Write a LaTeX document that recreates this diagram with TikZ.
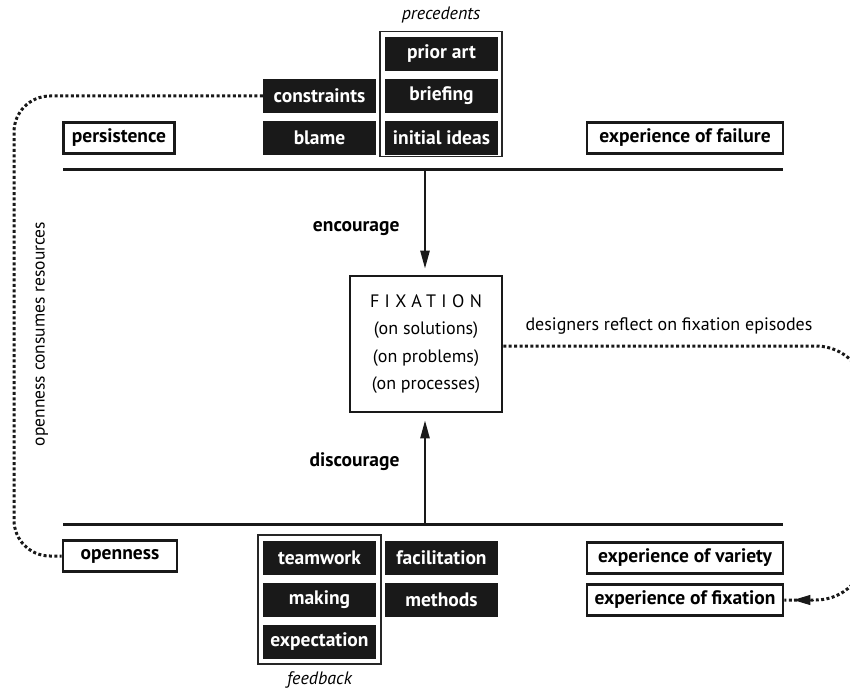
\documentclass[tikz,border=0pt]{standalone}
\usepackage{fontspec}
\setmainfont{PT Sans}
\usetikzlibrary{arrows.meta}
\begin{document}
\begin{tikzpicture}[x=1pt,y=-1pt,
  every node/.style={font=\fontsize{18}{21}\selectfont},
  blackbox/.style={fill=black!90, text=white, font=\fontsize{19.5}{22}\selectfont\bfseries, minimum width=113pt, minimum height=34pt, inner sep=0pt},
  whitebox/.style={draw=black!90, line width=2.6pt, font=\fontsize{19.5}{22}\selectfont\bfseries, minimum height=31pt, inner sep=0pt},
  groupbox/.style={draw=black!85, line width=1.3pt, inner sep=0pt},
  bar/.style={line width=3pt, black!90},
  flowarrow/.style={line width=2.4pt, black!90, -{Triangle[width=9pt,length=18pt]}},
  dotline/.style={line width=3pt, black!90, dash pattern=on 3pt off 2.4pt},
  lbl/.style={font=\fontsize{19.5}{22}\selectfont\bfseries},
  ital/.style={font=\fontsize{18}{21}\selectfont\itshape, inner sep=1pt}
]
\useasboundingbox (0,0) rectangle (850,690);

% top group
\node[ital] (prectxt) at (441,15) {precedents};
\node[groupbox, minimum width=122pt, minimum height=125pt] (prec) at (441,94) {};
\node[blackbox] (prior) at (441.5,54) {prior art};
\node[blackbox] (brief) at (441.5,96) {briefing};
\node[blackbox] (ideas) at (441.5,138) {initial ideas};
\node[blackbox] (constr) at (319.5,96) {constraints};
\node[blackbox] (blame) at (319.5,138) {blame};
\node[whitebox, minimum width=111pt] (persist) at (119,138) {persistence};
\node[whitebox, minimum width=196pt] (failure) at (685,138) {experience of failure};

\coordinate (tl) at (63,169);
\coordinate (tr) at (783,169);
\coordinate (tm) at (425,169);
\draw[bar] (tl) -- (tr);

% fixation
\node[draw=black!90, line width=2.6pt, minimum width=152pt, minimum height=136pt, align=center, inner sep=0pt,
  font=\fontsize{18}{27.5}\selectfont] (fix) at (426,344)
  {{\addfontfeature{LetterSpace=30}FIXATION}\\(on solutions)\\(on problems)\\(on processes)};

\node[lbl, anchor=east] (enc) at (403,229) {encourage};
\node[lbl, anchor=east] (disc) at (403,462) {discourage};
\draw[flowarrow, shorten >=6pt] (tm) -- (tm |- fix.north);

\coordinate (bl) at (63,524);
\coordinate (br) at (783,524);
\coordinate (bm) at (425,524);
\draw[bar] (bl) -- (br);
\draw[flowarrow, shorten >=7pt] (bm) -- (bm |- fix.south);

\node (refl) at (669,326) {designers reflect on fixation episodes};

% bottom group
\node[whitebox, minimum width=114pt] (open) at (120,556) {openness};
\node[groupbox, minimum width=123pt, minimum height=129pt] (fb) at (319.5,599.5) {};
\node[blackbox] (team) at (319.5,557.5) {teamwork};
\node[blackbox] (making) at (319.5,600) {making};
\node[blackbox] (expect) at (319.5,641.5) {expectation};
\node[blackbox] (facil) at (441.5,557.5) {facilitation};
\node[blackbox] (meth) at (441.5,600) {methods};
\node[ital, anchor=base] (fbtxt) at (319.5,684) {feedback};
\node[whitebox, minimum width=196pt] (variety) at (685,558) {experience of variety};
\node[whitebox, minimum width=196pt] (fixexp) at (685,600) {experience of fixation};

% left loop
\coordinate (lc1) at (14,96);
\coordinate (lc2) at (14,556);
\draw[dotline, rounded corners=36pt] (constr.west) -- (lc1) -- (lc2) -- (open.west);
\node[rotate=90, font=\fontsize{17.5}{21}\selectfont] (cons) at (42,334) {openness consumes resources};

% right loop
\begin{scope}
\clip (0,0) rectangle (850,690);
\coordinate (rc1) at (866,346);
\coordinate (rc2) at (866,600);
\draw[dotline, rounded corners=50pt] ([yshift=-2pt]fix.east) -- (rc1) -- (rc2) -- (fixexp.east);
\end{scope}
\draw[line width=1pt, black!90, -{Triangle[width=10pt,length=17pt]}] ([xshift=30pt]fixexp.east) -- ([xshift=9pt]fixexp.east);
\end{tikzpicture}
\end{document}
